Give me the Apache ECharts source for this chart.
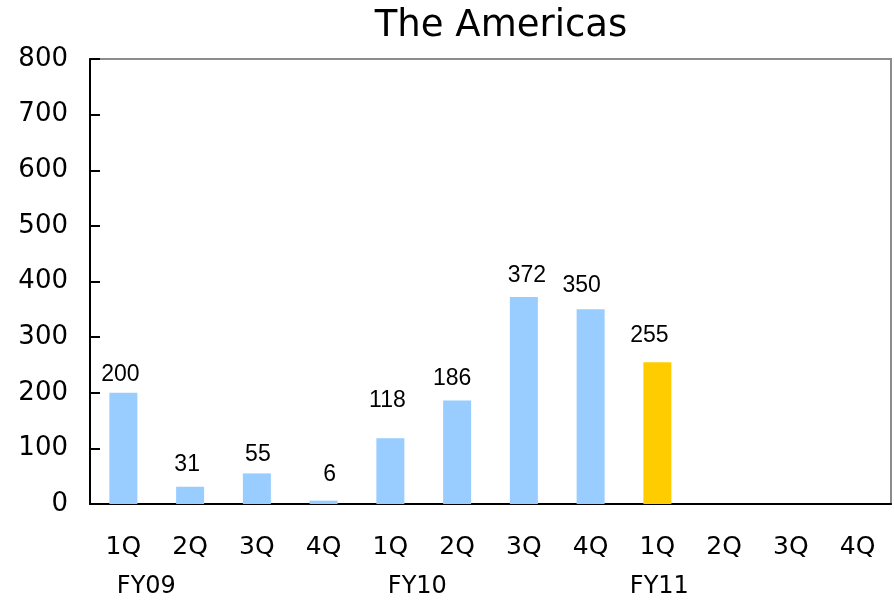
<!DOCTYPE html>
<html>
<head>
<meta charset="utf-8">
<script src="https://cdn.jsdelivr.net/npm/echarts@6/dist/echarts.min.js"></script>
<style>
  html, body { margin: 0; padding: 0; background: #fff; }
  #chart { width: 894px; height: 602px; }
</style>
</head>
<body>
<div id="chart"></div>
<script>
// Quarterly figures, The Americas
const quarters = ['1Q', '2Q', '3Q', '4Q', '1Q', '2Q', '3Q', '4Q', '1Q', '2Q', '3Q', '4Q'];
const fiscalYears = ['FY09', '', '', '', 'FY10', '', '', '', 'FY11', '', '', ''];
const values = [200, 31, 55, 6, 118, 186, 372, 350, 255, null, null, null];
const yTicks = [0, 100, 200, 300, 400, 500, 600, 700, 800];

// Hand placement of the value labels: [dx, dy] per bar
const labelNudge = [[-3, 4], [-3, 0], [1, 4], [6, -4], [-3, -15], [-5, 1], [3, 1], [-9, -1], [-8, -4], [0, 0], [0, 0], [0, 0]];
// Horizontal shift of each fiscal-year caption
const fyShift = { FY09: 23, FY10: 27, FY11: 2 };

const FONT = '"Liberation Sans", Arial, sans-serif';
const WIDE = '"DejaVu Sans", sans-serif';
const BLUE = '#99CCFF';
const YELLOW = '#FFCC00';

// The most recent reported quarter is highlighted
let latest = -1;
values.forEach((v, i) => { if (v !== null) latest = i; });

const barData = values.map((v, i) => ({
  value: v,
  itemStyle: { color: i === latest ? YELLOW : BLUE },
  label: { offset: labelNudge[i] }
}));

const fyRich = {};
Object.keys(fyShift).forEach(k => {
  fyRich[k] = { padding: [0, 0, 0, fyShift[k] * 2], fontSize: 24, fontFamily: WIDE, color: '#000' };
});

const chart = echarts.init(document.getElementById('chart'), null, { renderer: 'canvas' });
chart.setOption({
  animation: false,
  backgroundColor: '#fff',
  title: {
    text: 'The Americas',
    left: 496,
    textAlign: 'center',
    top: 3,
    textStyle: { fontFamily: WIDE, fontSize: 37, fontWeight: 'normal', color: '#000' }
  },
  grid: {
    left: 90, right: 3, top: 59, bottom: 98,
    show: true, borderColor: '#8c8c8c', borderWidth: 2, backgroundColor: '#fff'
  },
  xAxis: [{
    type: 'category',
    data: quarters,
    position: 'bottom',
    axisLine: { lineStyle: { color: '#000', width: 2 } },
    axisTick: { inside: true, length: 8, lineStyle: { color: '#000', width: 2 } },
    axisLabel: { margin: 31, fontSize: 25, fontFamily: WIDE, color: '#000' }
  }, {
    type: 'category',
    data: fiscalYears,
    position: 'bottom',
    axisLine: { show: false },
    axisTick: { show: false },
    axisLabel: {
      margin: 71,
      interval: 0,
      formatter: v => (v ? '{' + v + '|' + v + '}' : ''),
      rich: fyRich
    }
  }],
  yAxis: {
    type: 'value',
    min: 0, max: 800, interval: 100,
    splitLine: { show: false },
    axisLine: { show: true, lineStyle: { color: '#000', width: 2 } },
    axisTick: { show: true, inside: true, length: 10, lineStyle: { color: '#000', width: 2 } },
    axisLabel: {
      margin: 22, fontSize: 26, fontFamily: WIDE, color: '#000',
      formatter: v => (yTicks.includes(v) ? String(v) : '')
    }
  },
  series: [{
    type: 'bar',
    xAxisIndex: 0,
    data: barData,
    barWidth: 28,
    label: {
      show: true,
      position: 'top',
      distance: 11,
      fontSize: 23,
      fontFamily: FONT,
      color: '#000'
    }
  }]
});
</script>
</body>
</html>
